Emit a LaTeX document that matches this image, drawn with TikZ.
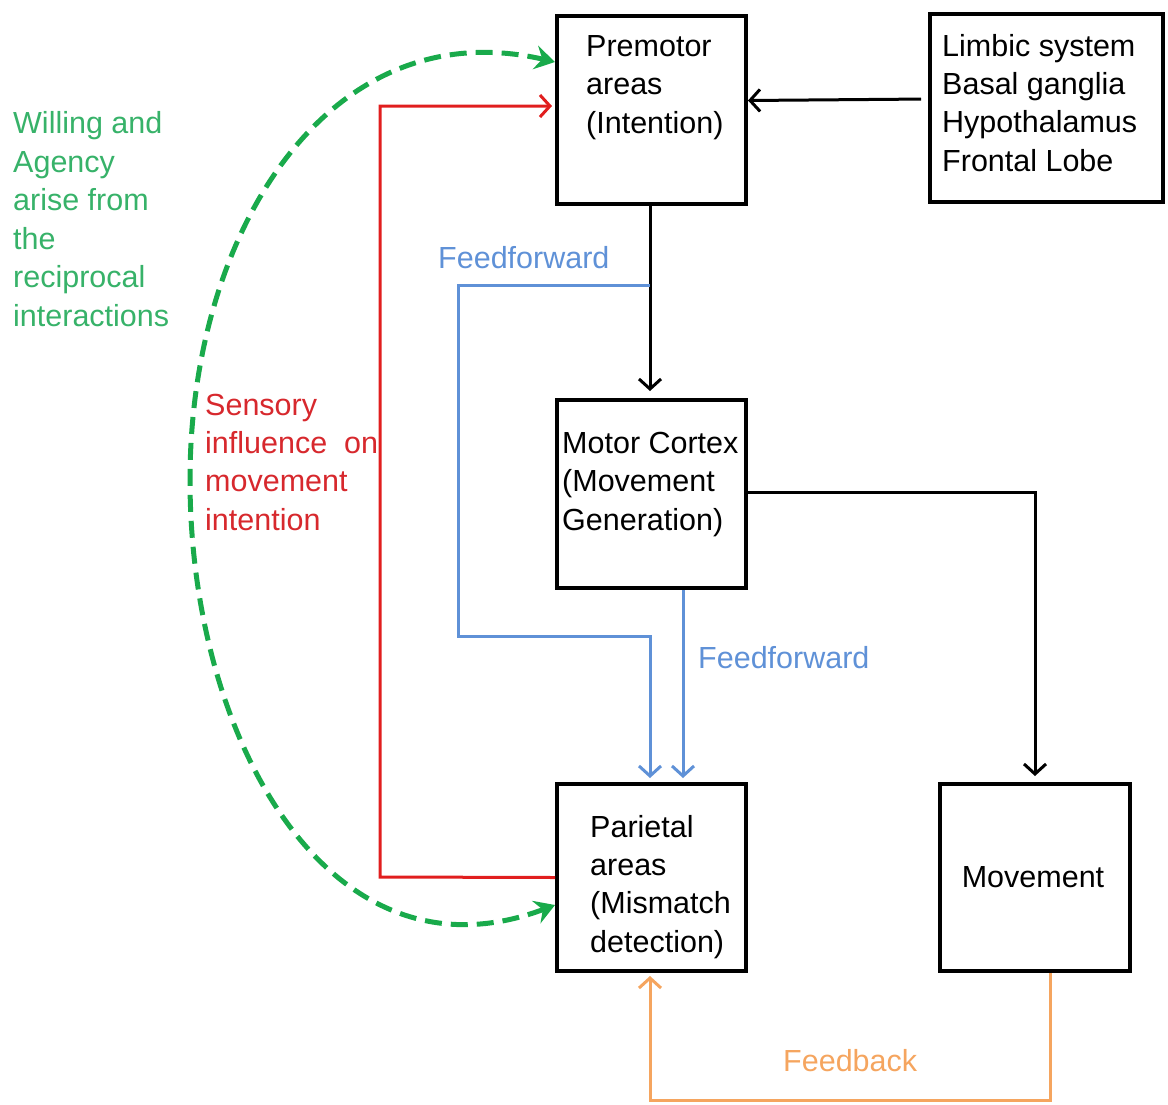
\documentclass[tikz,border=0pt]{standalone}
\usepackage{fontspec}
\setmainfont{Liberation Sans}
\usetikzlibrary{arrows.meta}
\definecolor{gline}{RGB}{25,170,75}
\definecolor{gtext}{RGB}{55,178,105}
\definecolor{rline}{RGB}{225,30,30}
\definecolor{rtext}{RGB}{215,40,45}
\definecolor{bline}{RGB}{95,145,215}
\definecolor{oline}{RGB}{245,165,95}
\begin{document}
\begin{tikzpicture}[x=1pt,y=-1pt,
  box/.style={draw=black, line width=4pt, inner sep=0pt, minimum width=189pt, minimum height=188pt},
  txt/.style={anchor=base west, align=left, inner sep=0pt, font=\fontsize{30.5}{38.3}\selectfont},
  conn/.style={line width=3pt, -{Straight Barb[length=10pt,width=22pt,line width=3pt]}},
  bconn/.style={draw=bline, line width=3pt, -{Straight Barb[length=10pt,width=22pt,line width=3pt]}},
  rconn/.style={draw=rline, line width=3pt, -{Straight Barb[length=10pt,width=22pt,line width=3pt]}},
  oconn/.style={draw=oline, line width=3pt, -{Straight Barb[length=10pt,width=22pt,line width=3pt]}},
  gconn/.style={draw=gline, line width=5pt, dash pattern=on 17pt off 9pt,
    {Stealth[length=20pt,width=24pt,inset=7pt]}-{Stealth[length=20pt,width=24pt,inset=7pt]}},
]
\useasboundingbox (0,0) rectangle (1168,1104);

% boxes
\node[box] (pm) at (651.5,109.5) {};
\node[box, minimum width=233pt, minimum height=188pt] (lb) at (1046.5,108) {};
\node[box] (mc) at (651.5,494) {};
\node[box, minimum height=187pt] (pa) at (651.5,877.5) {};
\node[box, minimum width=190pt, minimum height=187pt] (mv) at (1035,877.5) {};

% box texts (anchored at the baseline of the last line)
\node[txt] (pmt) at (586,133) {Premotor\\areas\\(Intention)};
\node[txt] (lbt) at (942,171) {Limbic system\\Basal ganglia\\Hypothalamus\\Frontal Lobe};
\node[txt] (mct) at (562,530) {Motor Cortex\\(Movement\\Generation)};
\node[txt] (pat) at (590,952) {Parietal\\areas\\(Mismatch\\detection)};
\node[txt, anchor=base] (mvt) at (1033,887) {Movement};

% labels
\node[txt, text=bline] (ff1) at (438,268) {Feedforward};
\node[txt, text=bline] (ff2) at (698,668) {Feedforward};
\node[txt, text=oline] (fb) at (783,1071) {Feedback};
\node[txt, text=gtext, font=\fontsize{30.5}{38.5}\selectfont] (gl) at (13,326)
  {Willing and\\Agency\\arise from\\the\\reciprocal\\interactions};
\node[txt, text=rtext] (rl) at (205,530) {Sensory\\influence\ \ on\\movement\\intention};

% black connectors
\draw[conn, shorten <=7pt] ([yshift=9pt]lb.west) -- ([yshift=9pt]pm.east);
\draw[conn, shorten >=7pt] ([xshift=-1.5pt]pm.south) -- ([xshift=-1.5pt]mc.north);
\draw[conn, shorten >=6pt] ([yshift=2pt]mc.east) -| (mv.north);

% blue feedforward
\coordinate (b1) at (650,285);
\draw[bconn, shorten >=4pt] (b1) -- (458,285) -- (458,636) -- (650,636) -- ([xshift=-1.5pt]pa.north);
\draw[bconn, shorten >=4pt] ([xshift=31.5pt]mc.south) -- ([xshift=31.5pt]pa.north);

% orange feedback
\draw[oconn, shorten >=3pt] ([xshift=15pt]mv.south) -- (1050,1100) -- (650,1100) -- ([xshift=-1.5pt]pa.south);

% red sensory influence
\draw[rconn, shorten >=3pt] (pa.west) -- (380,877) -- (380,106) -- ([yshift=3.5pt]pm.west);

% green dashed
\draw[gconn] ([yshift=-27.5pt]pa.west) .. controls (330,990) and (190,740) .. (190,480)
  .. controls (190,230) and (330,10) .. ([yshift=47.5pt]pm.west);
\end{tikzpicture}
\end{document}
